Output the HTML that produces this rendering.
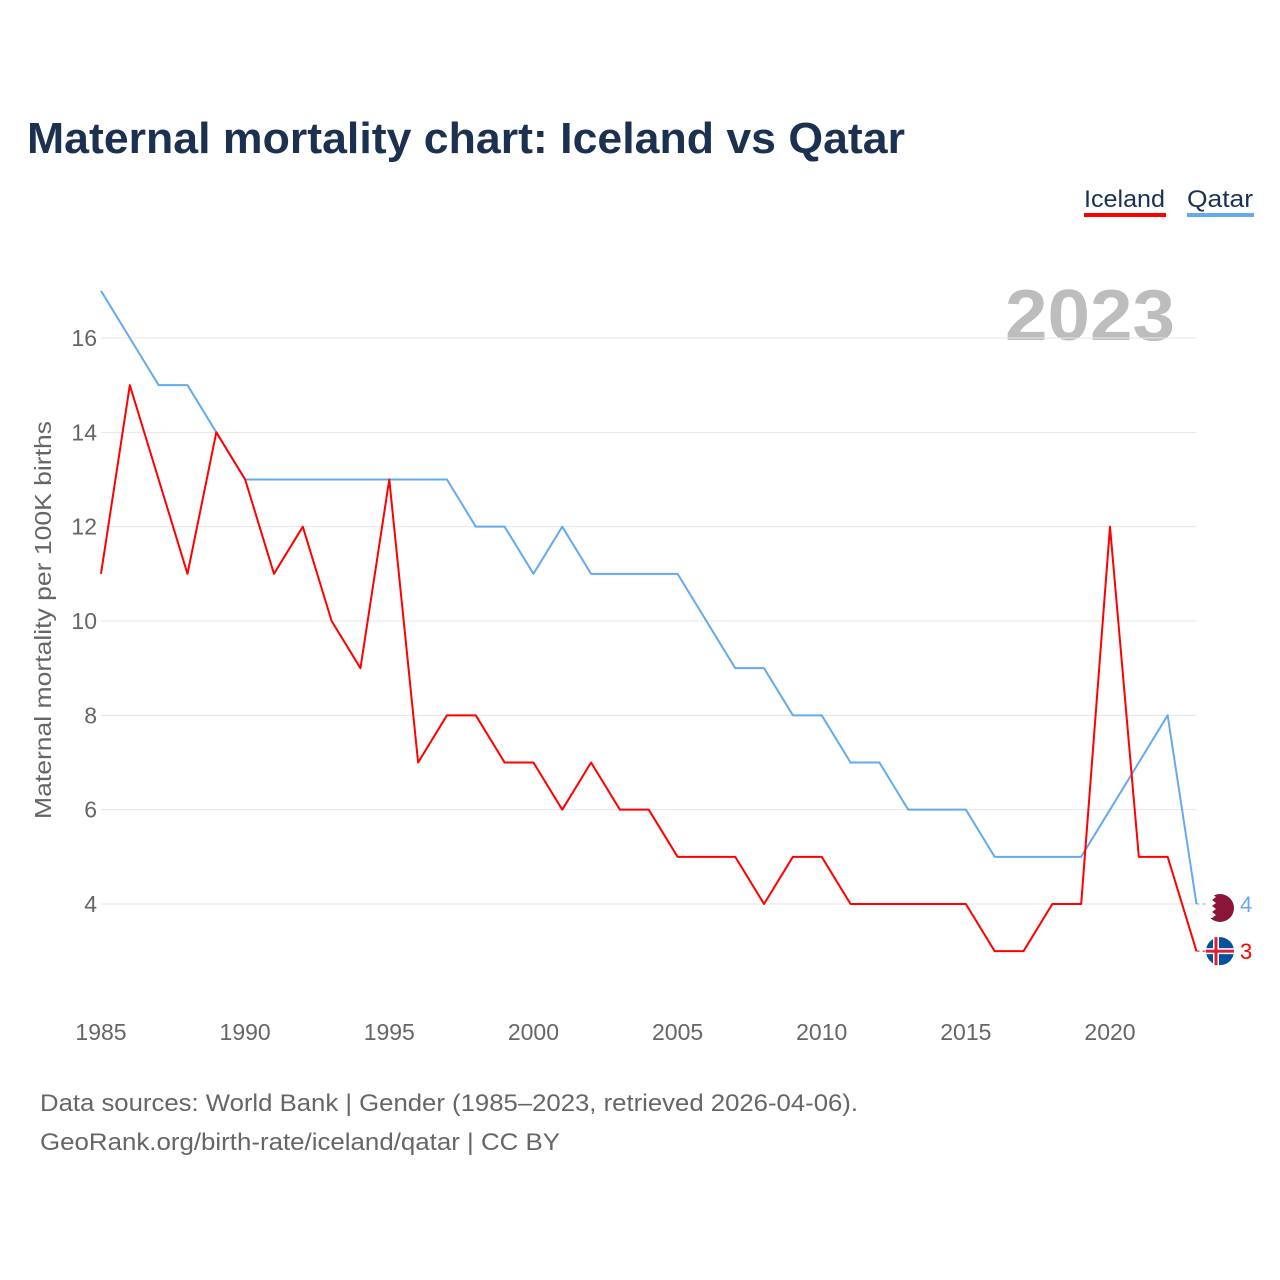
<!DOCTYPE html>
<html><head><meta charset="utf-8"><style>
body{margin:0;background:#fff;font-family:"Liberation Sans",sans-serif}
svg{display:block}
</style></head><body>
<svg width="1280" height="1280" viewBox="0 0 1280 1280" id="chart">
<text x="27" y="153" font-size="44" font-weight="bold" fill="#1c3150" textLength="878" lengthAdjust="spacingAndGlyphs">Maternal mortality chart: Iceland vs Qatar</text>
<g>
<g><text x="1084" y="207" font-size="24" fill="#1c3150" textLength="81" lengthAdjust="spacingAndGlyphs">Iceland</text><rect x="1084" y="213" width="82" height="4" fill="#ff0000"/></g>
<g><text x="1187" y="207" font-size="24" fill="#1c3150" textLength="66" lengthAdjust="spacingAndGlyphs">Qatar</text><rect x="1187" y="213" width="67" height="4" fill="#66aaee"/></g>
</g>
<text x="1005" y="340" font-size="72" font-weight="bold" fill="#bdbdbd" textLength="170" lengthAdjust="spacingAndGlyphs">2023</text>
<g id="grid"></g><g id="axes"></g><g id="series"></g>
<text transform="translate(51,620) rotate(-90)" font-size="23" fill="#666" text-anchor="middle" textLength="398" lengthAdjust="spacingAndGlyphs">Maternal mortality per 100K births</text>
<text x="40" y="1111" font-size="24" fill="#666" textLength="818" lengthAdjust="spacingAndGlyphs">Data sources: World Bank | Gender (1985–2023, retrieved 2026-04-06).</text>
<text x="40" y="1150" font-size="24" fill="#666" textLength="520" lengthAdjust="spacingAndGlyphs">GeoRank.org/birth-rate/iceland/qatar | CC BY</text>
</svg>
<script>
const years=[];for(let y=1985;y<=2023;y++)years.push(y);
const iceland=[11,15,13,11,14,13,11,12,10,9,13,7,8,8,7,7,6,7,6,6,5,5,5,4,5,5,4,4,4,4,4,3,3,4,4,12,5,5,3];
const qatar=[17,16,15,15,14,13,13,13,13,13,13,13,13,12,12,11,12,11,11,11,11,10,9,9,8,8,7,7,6,6,6,5,5,5,5,6,7,8,4];
const yTicks=[4,6,8,10,12,14,16];
const xTicks=[1985,1990,1995,2000,2005,2010,2015,2020];
const NS="http://www.w3.org/2000/svg";
const xs=y=>101+(y-1985)*(1009/35);
const ys=v=>904-(v-4)*(566/12);
function el(t,a,p){const e=document.createElementNS(NS,t);for(const k in a)e.setAttribute(k,a[k]);p.appendChild(e);return e;}
const grid=document.getElementById('grid'),axes=document.getElementById('axes'),ser=document.getElementById('series');
yTicks.forEach(v=>{
 const l=el('line',{x1:101,x2:1196,y1:ys(v),y2:ys(v),stroke:'#e6e6e6','stroke-width':1},grid);
 
 
 const t=el('text',{x:97,y:ys(v)+8,'font-size':23,fill:'#666','text-anchor':'end'},axes);t.textContent=v;
 
 
});
xTicks.forEach(v=>{
 const t=el('text',{x:xs(v),y:1040,'font-size':23,fill:'#666','text-anchor':'middle'},axes);t.textContent=v;
 
 
});
function draw(data,color,name){
 const p=el('polyline',{points:data.map((v,i)=>xs(years[i])+','+ys(v)).join(' '),fill:'none',stroke:color,'stroke-width':2,'stroke-linejoin':'round'},ser);
 
 
 const last=data[data.length-1],lx=xs(years[years.length-1]),ly=ys(last);
 const d=el('line',{x1:lx,x2:1206,y1:ly,y2:ly,stroke:color,'stroke-width':1,'stroke-dasharray':'3,3'},ser);
 
 
 const g=el('g',{},ser);
 
 
 if(name==='qatar'){
  el('circle',{cx:1220,cy:ly+4,r:14,fill:'#8a1538'},g);
  el('path',{d:`M1206 ${ly-10} h6 l4 3 l-4 3 l4 3 l-4 3 l4 3 l-4 3 l4 3 l-4 3 h-6 z`,fill:'#fff'},g);
 }else{
  el('circle',{cx:1220,cy:ly,r:14,fill:'#02529c'},g);
  el('rect',{x:1206,y:ly-3,width:28,height:6,fill:'#fff'},g);
  el('rect',{x:1213,y:ly-14,width:6,height:28,fill:'#fff'},g);
  el('rect',{x:1206,y:ly-1.5,width:28,height:3,fill:'#dc1e35'},g);
  el('rect',{x:1214.5,y:ly-14,width:3,height:28,fill:'#dc1e35'},g);
 }
 const t=el('text',{x:1240,y:ly+8,'font-size':22,fill:color},ser);t.textContent=last;
 
 
}
draw(qatar,'#66aaee','qatar');
draw(iceland,'#ff0000','iceland');
</script>
</body></html>
